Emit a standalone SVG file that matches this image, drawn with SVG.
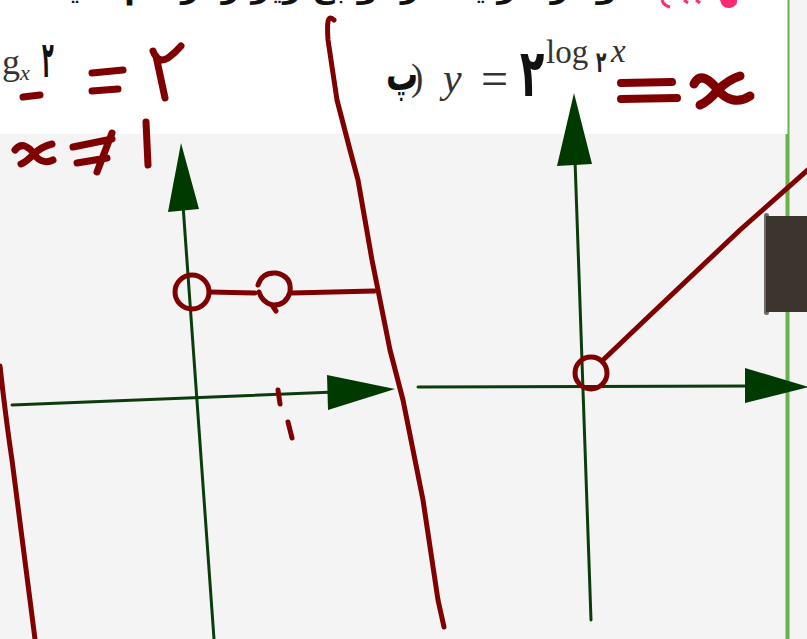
<svg xmlns="http://www.w3.org/2000/svg" width="807" height="639" viewBox="0 0 807 639">
<style>
.ink{fill:none;stroke:#7f0000;stroke-linecap:round;stroke-linejoin:round}
.ax{fill:none;stroke:#0b3d0b;stroke-width:3;stroke-linecap:round}
.head{fill:#003a00}
.fa{font-family:"DejaVu Sans",sans-serif}
.m{font-family:"Liberation Serif",serif;fill:#333}
</style>
<rect width="807" height="639" fill="#f4f4f4"/>
<rect width="788" height="134" fill="#ffffff"/>
<line x1="788.5" y1="0" x2="788.5" y2="639" stroke="#6ab04c" stroke-width="2"/>
<line x1="787" y1="134" x2="787" y2="639" stroke="#6ab04c" stroke-width="3"/>
<g id="top-text">
<text class="fa" x="50" y="-2" font-size="30" font-weight="bold" textLength="600" lengthAdjust="spacingAndGlyphs" fill="#111">نمودار هر یک از توابع زیر را رسم کنید</text>
<path d="M662,0 Q664,6 670,7" stroke="#ff2a75" stroke-width="3" fill="none"/>
<path d="M684,0 L688,3 M696,0 L700,3" stroke="#ff2a75" stroke-width="3" fill="none"/>
<path d="M720,0 Q722,9 730,8 Q738,6 737,0 Z" fill="#ff2a75"/>
</g>
<g id="formula-left">
<text class="m" x="2" y="74" font-size="36">g</text>
<text class="m" x="20" y="80" font-size="22" font-style="italic">x</text>
<text class="fa" transform="translate(42,77) scale(0.8,2.1)" font-size="24" font-weight="bold" fill="#111">۲</text>
</g>
<g id="formula-right">
<text class="fa" transform="translate(386,90) scale(1,1.4)" font-size="32" font-weight="bold" fill="#111">پ</text>
<text class="m" x="411" y="90" font-size="37" fill="#222">)</text>
<text class="m" x="443" y="92" font-size="42" font-style="italic" fill="#222">y</text>
<text class="m" x="481" y="95" font-size="48" fill="#222">=</text>
<text class="fa" transform="translate(520,96) scale(1.05,1.75)" font-size="38" font-weight="bold" fill="#111">۲</text>
<text class="m" x="546" y="63" font-size="33">log</text>
<text class="fa" transform="translate(596,72) scale(1,1.7)" font-size="17" font-weight="bold" fill="#222">۲</text>
<text class="m" x="611" y="62" font-size="33" font-style="italic">x</text>
</g>
<g id="hand-notes">
<path class="ink" stroke-width="7" d="M23,97 L40,95"/>
<path class="ink" stroke-width="7" d="M92,73 L123,70 M92,91 L118,89"/>
<path class="ink" stroke-width="7" d="M153,51 Q158,64 168,58 Q176,52 181,46 M156,56 L165,98"/>
<path class="ink" stroke-width="7" d="M15,150 C22,141 30,148 34,154 C38,160 45,164 53,160 M52,144 C44,146 38,150 34,154 C30,158 26,162 21,164"/>
<path class="ink" stroke-width="7" d="M73,147 L112,139 M77,163 L107,158 M112,133 L97,172"/>
<path class="ink" stroke-width="7" d="M146,122 L148,165"/>
<path class="ink" stroke-width="8" d="M621,83 L672,82 M621,99 L677,98"/>
<path class="ink" stroke-width="9" d="M694,84 C700,72 710,80 718,90 C726,100 738,104 750,96 M740,76 C730,79 724,84 718,90 C712,97 705,103 700,105"/>
</g>
<g id="axes-left">
<path class="ax" d="M183,205 L214,639"/>
<polygon class="head" points="181,143 168,212 199,209"/>
<path class="ax" d="M12,405 L335,392"/>
<polygon class="head" points="395,389 327,375 328,410"/>
</g>
<g id="axes-right">
<path class="ax" d="M575,160 L591,620"/>
<polygon class="head" points="574,93 557,166 592,164"/>
<path class="ax" d="M418,387 L752,386"/>
<polygon class="head" points="809,387 745,368 745,403"/>
</g>
<g id="graph-left">
<circle class="ink" cx="192" cy="292" r="17" stroke-width="5"/>
<path class="ink" stroke-width="5" d="M210,292 L255,293"/>
<path class="ink" stroke-width="5" d="M258,285 Q262,272 276,273 Q292,276 290,292 Q286,306 272,305 Q262,302 259,292 M272,305 L276,311"/>
<path class="ink" stroke-width="5" d="M292,293 L374,291"/>
<path class="ink" stroke-width="5" d="M278,390 L280,404 M288,422 L292,438"/>
</g>
<g id="graph-right">
<circle class="ink" cx="591" cy="373" r="16" stroke-width="5"/>
<path class="ink" stroke-width="5" d="M602,361 L645,320 L740,230 L810,168"/>
</g>
<g id="strokes">
<path class="ink" stroke-width="5" d="M334,20 C327,13 327,25 328,40 L337,100 L350,150 L358,180 L372,260 L390,350 L403,400 L423,500 L438,600 L444,627"/>
<path class="ink" stroke-width="5" d="M0,366 Q6,420 12,460 Q22,540 35,639"/>
</g>
<g id="panel">
<rect x="764" y="213" width="5" height="102" rx="2.5" fill="#6e6a66"/>
<rect x="766" y="216" width="44" height="96" fill="#3b342f"/>
</g>
</svg>
